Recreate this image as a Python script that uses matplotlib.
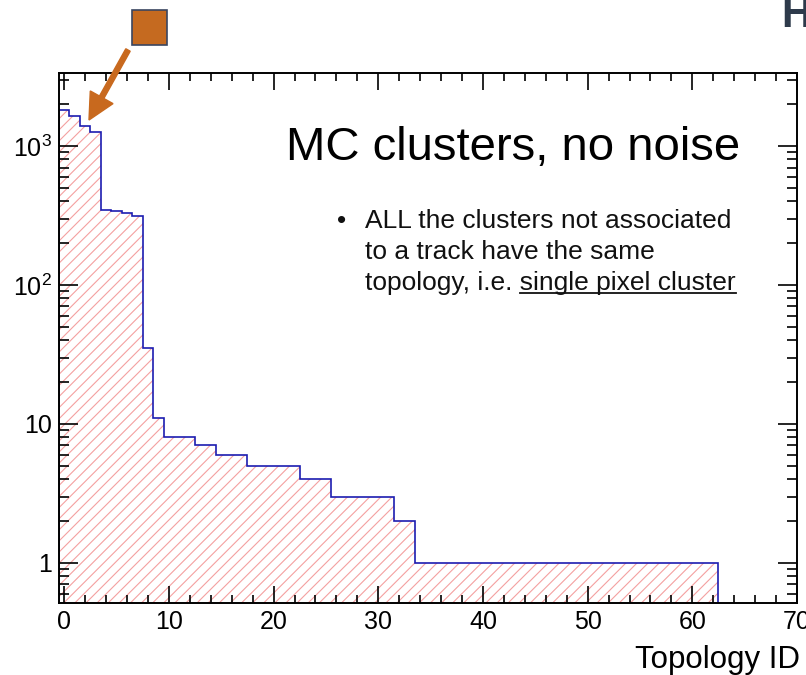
"""Topology ID histogram (MC clusters, no noise), ROOT-like style."""

import numpy as np
import matplotlib
matplotlib.use("Agg")
import matplotlib.pyplot as plt
from matplotlib.ticker import FixedLocator, FixedFormatter, LogLocator, MultipleLocator, NullFormatter
from matplotlib.patches import Rectangle, FancyArrow

plt.rcParams["font.family"] = ["Liberation Sans", "DejaVu Sans"]
plt.rcParams["mathtext.fontset"] = "custom"
plt.rcParams["mathtext.rm"] = "Liberation Sans"
plt.rcParams["mathtext.default"] = "regular"
plt.rcParams["hatch.linewidth"] = 0.8

# --- data: counts per topology ID (bins centred on integers 0..62)
topology_id = np.arange(0, 63)
counts = np.array(
    [1800, 1650, 1400, 1270, 347, 341, 328, 313, 35, 11,
     8, 8, 8, 7, 7, 6, 6, 6, 5, 5, 5, 5, 5, 4, 4, 4,
     3, 3, 3, 3, 3, 3, 2, 2] + [1] * 29, dtype=float)
edges = np.append(topology_id - 0.5, topology_id[-1] + 0.5)

y_major = [1, 10, 100, 1000]
y_labels = ["1", "10", "10$^{2}$", "10$^{3}$"]
x_major = [0, 10, 20, 30, 40, 50, 60, 70]

W, H = 806, 675
fig = plt.figure(figsize=(W / 100, H / 100), dpi=100)
ax = fig.add_axes([59 / W, 1 - 603 / H, (797 - 59) / W, (603 - 73) / H])

ax.set_yscale("log")
ax.stairs(counts, edges, baseline=1e-3, fill=True, facecolor="none",
          edgecolor="#f4a0a0", hatch="///", linewidth=0)
ax.stairs(counts, edges, baseline=1e-3, color="#1c1cb0", linewidth=1.2)

ax.set_xlim(-0.5, 70)
ax.set_ylim(0.515, 3350)

ax.xaxis.set_major_locator(FixedLocator(x_major))
ax.xaxis.set_minor_locator(MultipleLocator(2))
ax.yaxis.set_major_locator(FixedLocator(y_major))
ax.yaxis.set_major_formatter(FixedFormatter(y_labels))
ax.yaxis.set_minor_locator(LogLocator(base=10, subs=np.arange(2, 10)))
ax.yaxis.set_minor_formatter(NullFormatter())

ax.tick_params(which="both", direction="in", top=True, right=True, width=1.2, colors="black")
ax.tick_params(axis="y", which="major", length=14, labelsize=18, pad=5)
ax.tick_params(axis="y", which="minor", length=7)
ax.tick_params(axis="x", which="major", length=12, labelsize=18, pad=5)
ax.tick_params(axis="x", which="minor", length=6)
for s in ax.spines.values():
    s.set_linewidth(1.4)

# axis title, right aligned under the axis
fig.text(800 / W, 1 - 668 / H, "Topology ID", ha="right", va="baseline", fontsize=22.5)

# slide annotations
fig.text(740 / W, 1 - 160 / H, "MC clusters, no noise", ha="right", va="baseline", fontsize=34)
fig.text(342 / W, 1 - 228 / H, "\u2022", ha="center", va="baseline", fontsize=19, color="#111111")
lines = ["ALL the clusters not associated", "to a track have the same",
         "topology, i.e. single pixel cluster"]
base = [228, 259, 290]
txt = None
for s, b in zip(lines, base):
    txt = fig.text(365 / W, 1 - b / H, s, ha="left", va="baseline", fontsize=19, color="#111111")

# underline "single pixel cluster"
fig.canvas.draw()
r = fig.canvas.get_renderer()
line_bb = txt.get_window_extent(r)
probe = fig.text(0, 0, "single pixel cluster", fontsize=19)
w = probe.get_window_extent(r).width
probe.remove()
uy = (H - 293) / H
fig.add_artist(plt.Line2D([(line_bb.x1 - w) / W, line_bb.x1 / W], [uy, uy],
                          transform=fig.transFigure, color="#111111", lw=1.3))

# orange marker + hand-drawn arrow
fig.add_artist(Rectangle((132 / W, 1 - 45 / H), 35 / W, 35 / H, transform=fig.transFigure,
                         facecolor="#c56a20", edgecolor="#3a4560", lw=1.2))
fig.add_artist(FancyArrow(128, H - 50, 89 - 128, -(120 - 50), width=5, head_width=26,
                          head_length=26, length_includes_head=True, transform=None,
                          color="#c8691e"))

# cut-off slide title letter
fig.text(781 / W, 1 - 27 / H, "H", ha="left", va="baseline", fontsize=30,
         fontweight="bold", color="#2e3a4b")

fig.savefig("out.png", dpi=100)
